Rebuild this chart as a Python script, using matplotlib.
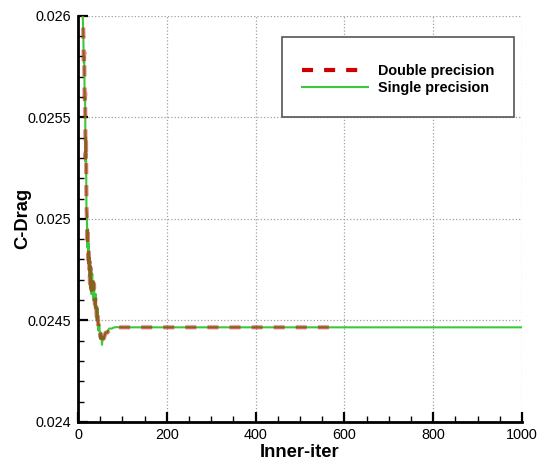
import matplotlib.pyplot as plt
from matplotlib.patches import Rectangle
from matplotlib.ticker import MultipleLocator

plt.rcParams['font.family'] = ['Liberation Sans', 'DejaVu Sans']

# Convergence history of the drag coefficient
dp_iter = [10, 12, 13, 14, 15, 16, 17, 18, 19, 20, 21, 22, 23, 24, 25, 26, 27, 28,
           30, 32, 34, 36, 38, 40, 42, 44, 46, 48, 50, 52, 54, 56, 58, 62, 66, 70,
           76, 82, 88, 95, 575]
dp_cd = [0.02605, 0.02592, 0.02575, 0.02582, 0.02556, 0.02562, 0.02530, 0.02538,
         0.02508, 0.02500, 0.02488, 0.02493, 0.02480, 0.02486, 0.02474, 0.02479,
         0.02468, 0.02476, 0.02465, 0.02472, 0.02462, 0.02468, 0.02458, 0.02462,
         0.02452, 0.02455, 0.02446, 0.02447, 0.02442, 0.02443, 0.02439, 0.02442,
         0.02441, 0.02444, 0.02444, 0.02445, 0.024458, 0.024466, 0.024468,
         0.024466, 0.024466]

sp_iter = [10, 12, 13, 14, 15, 16, 17, 18, 19, 20, 21, 22, 23, 24, 25, 26, 27, 28,
           30, 32, 34, 36, 38, 40, 42, 44, 46, 48, 50, 52, 54, 56, 58, 62, 66, 70,
           76, 82, 88, 95, 1000]
sp_cd = [0.02605, 0.02590, 0.02577, 0.02580, 0.02558, 0.02560, 0.02528, 0.02540,
         0.02505, 0.02502, 0.02486, 0.02495, 0.02478, 0.02488, 0.02472, 0.02481,
         0.02466, 0.02477, 0.02463, 0.02473, 0.02460, 0.02469, 0.02456, 0.02463,
         0.02450, 0.02456, 0.02445, 0.02448, 0.02441, 0.02444, 0.02438, 0.02442,
         0.02441, 0.02444, 0.02444, 0.02446, 0.024460, 0.024466, 0.024467,
         0.024466, 0.024466]

y_ticks = [0.024, 0.0245, 0.025, 0.0255, 0.026]
y_labels = ['0.024', '0.0245', '0.025', '0.0255', '0.026']
x_ticks = [0, 200, 400, 600, 800, 1000]

fig = plt.figure(figsize=(5.41, 4.62), dpi=100)
ax = fig.add_axes([0.1442, 0.0866, 0.8207, 0.8794])

ax.plot(sp_iter, sp_cd, color='#3cc83c', lw=1.5, label='Single precision', zorder=3)
dl, = ax.plot(dp_iter, dp_cd, color='#cc0000', lw=3, alpha=0.5,
              label='Double precision', zorder=4)
dl.set_dashes((2.65, 2.65))

ax.set_xlim(0, 1000)
ax.set_ylim(0.024, 0.026)
ax.set_xticks(x_ticks)
ax.set_xticklabels([str(t) for t in x_ticks])
ax.set_yticks(y_ticks)
ax.set_yticklabels(y_labels)
ax.xaxis.set_minor_locator(MultipleLocator(50))
ax.yaxis.set_minor_locator(MultipleLocator(0.0001))

ax.grid(True, which='major', color='#a0a0a0', linestyle=':', linewidth=0.9)
for side in ['top', 'right']:
    ax.spines[side].set_visible(False)
for side in ['left', 'bottom']:
    ax.spines[side].set_linewidth(2)
ax.tick_params(which='major', direction='in', length=7, width=1.6, labelsize=10.4,
               pad=5, top=False, right=False)
ax.tick_params(which='minor', direction='in', length=4, width=1.0,
               top=False, right=False)
ax.tick_params(axis='x', which='major', pad=4.5)

ax.set_xlabel('Inner-iter', fontsize=13.2, fontweight='bold', labelpad=1)
ax.set_ylabel('C-Drag', fontsize=13.2, fontweight='bold')
ax.yaxis.set_label_coords(-0.106, 0.5)

# legend box (Tecplot style, larger than its content)
box = Rectangle((0.4595, 0.7507), 0.5225, 0.1969, transform=ax.transAxes,
                facecolor='white', edgecolor='#555555', linewidth=1.2, zorder=5)
ax.add_patch(box)
handles, labels = ax.get_legend_handles_labels()
leg = ax.legend(handles[::-1], labels[::-1], loc='upper left',
                bbox_to_anchor=(0.488, 0.9), frameon=False, borderpad=0,
                handlelength=4.6, handletextpad=0.7, labelspacing=0.25,
                prop={'size': 10.4, 'weight': 'bold'})
leg.set_zorder(6)
for ln in leg.get_lines():
    ln.set_alpha(1)

fig.savefig('out.png', dpi=100)
